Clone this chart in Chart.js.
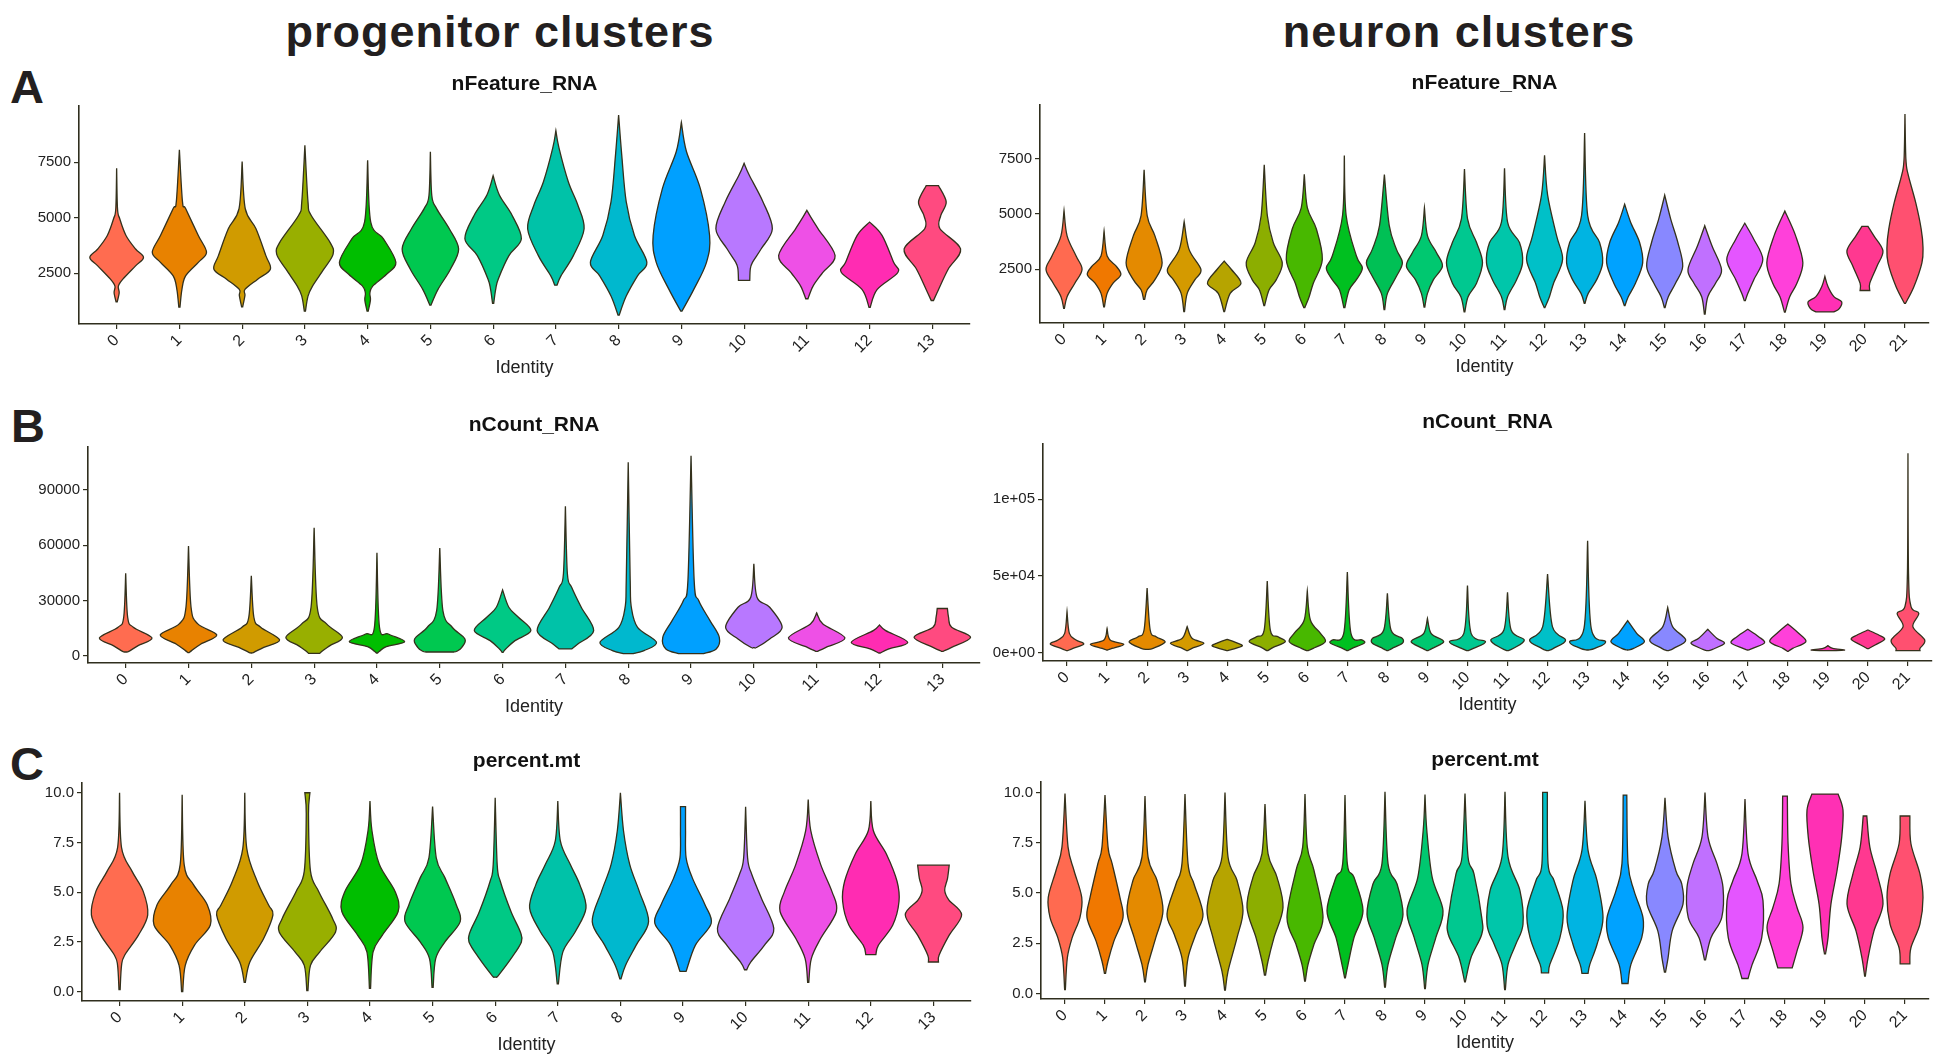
<!DOCTYPE html>
<html>
<head>
<meta charset="utf-8">
<script src="https://cdn.jsdelivr.net/npm/chart.js@4.4.0/dist/chart.umd.min.js"></script>
<style>
  body { margin: 0; background: #fff; width: 1941px; height: 1056px; position: relative; overflow: hidden;
         font-family: 'Liberation Sans', Arial, sans-serif; }
  .hdr { position: absolute; font-weight: bold; font-size: 45px; line-height: 45px; letter-spacing: 1px;
         color: #231f20; transform: translateX(-50%); white-space: nowrap; }
  .tag { position: absolute; font-weight: bold; font-size: 47px; line-height: 47px; color: #231f20; }
  canvas { position: absolute; }
</style>
</head>
<body>
<div class="hdr" style="left:500px;top:9px">progenitor clusters</div>
<div class="hdr" style="left:1459px;top:9px">neuron clusters</div>
<div class="tag" style="left:10px;top:63px">A</div>
<div class="tag" style="left:11px;top:402px">B</div>
<div class="tag" style="left:10px;top:740px">C</div>

<canvas id="aLeft"></canvas>
<canvas id="aRight"></canvas>
<canvas id="bLeft"></canvas>
<canvas id="bRight"></canvas>
<canvas id="cLeft"></canvas>
<canvas id="cRight"></canvas>

<script>
'use strict';

// Clusters (x categories)
const progenitorClusters = ['0','1','2','3','4','5','6','7','8','9','10','11','12','13'];
const neuronClusters = ['0','1','2','3','4','5','6','7','8','9','10','11','12','13','14','15','16','17','18','19','20','21'];

// Cluster colours
const progenitorColors = ['#FF6C50','#E88200','#D09B00','#98AF00','#00BE00','#00C850','#00C985',
  '#00C2A8','#00B8CE','#00A0FF','#B878FF','#EE50E6','#FF2CB2','#FF4A80'];
const neuronColors = ['#FF6A50','#F07800','#E48A00','#D49A00','#B6A400','#8CAE00','#48B800','#00C020',
  '#00C055','#00C870','#00C890','#00C6AA','#00C0C8','#00B4E2','#00A2FF','#8888FF','#C070FF','#E455FF',
  '#FF40DA','#FF30B4','#FF3890','#FF5070'];

// Violin outlines: [value, relative half-width, value, relative half-width, ...] from bottom to top
const progFeature = [
  [1210,0.02, 1620,0.09, 1920,0.06, 2230,0.22, 2830,0.67, 3210,0.95, 3590,0.67, 4200,0.33, 4950,0.11, 5410,0.03, 7230,0],
  [970,0.02, 1770,0.09, 2380,0.22, 2990,0.67, 3440,0.96, 4200,0.67, 5410,0.22, 5710,0.11, 8060,0],
  [990,0.02, 1500,0.1, 1770,0.1, 2230,0.55, 2680,1, 3290,0.84, 4500,0.49, 5410,0.11, 7530,0],
  [790,0.02, 1470,0.11, 1920,0.27, 2680,0.67, 3360,1, 3890,0.89, 5110,0.22, 5710,0.11, 8260,0],
  [790,0.02, 1300,0.1, 1600,0.08, 1920,0.18, 2450,0.67, 2990,1, 4050,0.56, 4800,0.11, 7580,0],
  [1060,0.02, 1770,0.27, 2680,0.71, 3590,1, 4500,0.67, 5410,0.22, 6000,0.05, 7970,0],
  [1140,0.02, 1770,0.09, 2230,0.18, 3290,0.56, 4050,1, 5110,0.67, 6020,0.22, 6890,0],
  [1960,0.04, 2380,0.18, 3290,0.62, 4500,1, 5560,0.78, 6620,0.44, 8140,0.11, 8920,0],
  [610,0.02, 1470,0.27, 2380,0.67, 2990,1, 4200,0.56, 5710,0.27, 7830,0.11, 9620,0],
  [790,0.02, 1770,0.44, 2990,0.89, 4200,1, 6320,0.67, 7980,0.18, 9290,0],
  [2180,0.2, 2700,0.22, 3000,0.3, 3590,0.6, 4500,1, 5710,0.67, 6920,0.18, 7450,0],
  [1350,0.04, 1920,0.22, 2530,0.56, 3290,1, 4500,0.4, 5000,0.15, 5330,0],
  [960,0.02, 1770,0.27, 2530,1, 2990,0.85, 4200,0.44, 4800,0],
  [1270,0.04, 1770,0.22, 2680,0.56, 3590,1, 4500,0.27, 5100,0.3, 5710,0.49, 6440,0.22]
];
const neuronFeature = [
  [730,0.02, 1260,0.17, 1870,0.6, 2490,1, 3100,0.67, 4010,0.17, 5160,0],
  [800,0.02, 1410,0.17, 1870,0.5, 2260,0.93, 2640,0.67, 3100,0.17, 4230,0],
  [1140,0.03, 1570,0.17, 2030,0.6, 2790,1, 4010,0.6, 4930,0.17, 7000,0],
  [590,0.02, 1410,0.17, 2030,0.6, 2490,0.93, 3400,0.27, 4660,0],
  [590,0.02, 1410,0.33, 1870,0.93, 2490,0.4, 2870,0],
  [860,0.02, 1570,0.27, 2030,0.67, 2790,1, 3710,0.5, 4930,0.17, 7230,0],
  [770,0.03, 1260,0.27, 1870,0.5, 2940,1, 4320,0.67, 5280,0.17, 6800,0],
  [770,0.03, 1570,0.27, 2030,0.67, 2560,1, 3100,0.67, 4930,0.1, 7640,0],
  [680,0.02, 1410,0.17, 2180,0.67, 2790,1, 3400,0.67, 4470,0.27, 6780,0],
  [790,0.02, 1410,0.17, 2030,0.5, 2640,1, 3250,0.67, 4010,0.17, 5280,0],
  [570,0.02, 1260,0.2, 1870,0.67, 2790,1, 3710,0.67, 4780,0.17, 7030,0],
  [680,0.02, 1260,0.17, 2030,0.67, 2790,1, 3710,0.83, 4630,0.17, 7070,0],
  [770,0.02, 1260,0.27, 1870,0.5, 2940,1, 4010,0.67, 5850,0.17, 7650,0],
  [960,0.02, 1410,0.2, 2030,0.67, 2790,1, 3710,0.83, 4930,0.17, 8660,0],
  [860,0.02, 1260,0.2, 1870,0.6, 2790,1, 3710,0.83, 4630,0.33, 5440,0],
  [770,0.02, 1260,0.2, 1870,0.6, 2640,1, 3710,0.73, 4780,0.33, 5850,0],
  [470,0.02, 1260,0.17, 1870,0.6, 2490,0.93, 3560,0.4, 4470,0],
  [1080,0.03, 1410,0.17, 2030,0.5, 2940,1, 3860,0.5, 4580,0],
  [560,0.02, 1260,0.27, 1870,0.67, 2790,1, 4010,0.6, 5130,0],
  [570,0.5, 720,0.8, 1030,0.93, 1260,0.5, 1720,0.17, 2180,0],
  [1540,0.27, 1870,0.27, 2640,0.67, 3330,1, 4010,0.5, 4440,0.17],
  [960,0.03, 1720,0.5, 2790,0.94, 3500,1, 4320,0.9, 5500,0.6, 6800,0.17, 7500,0.05, 9520,0]
];
const progCount = [
  [2170,0.03, 2530,0.11, 5600,0.44, 9760,0.93, 15540,0.27, 20960,0.07, 44810,0],
  [1810,0.02, 2890,0.11, 6500,0.44, 11380,1, 17350,0.33, 26390,0.09, 59460,0],
  [1630,0.02, 2000,0.09, 4700,0.44, 8670,1, 15540,0.33, 20960,0.09, 43370,0],
  [1450,0.2, 2890,0.3, 5600,0.56, 10120,1, 17350,0.44, 26390,0.11, 69390,0],
  [1630,0.02, 2530,0.09, 5060,0.33, 7770,0.98, 11930,0.4, 15540,0.09, 55820,0],
  [2170,0.5, 2530,0.6, 4700,0.78, 9220,0.89, 15540,0.44, 24580,0.11, 58370,0],
  [1990,0.02, 3800,0.11, 8310,0.44, 13730,1, 20960,0.56, 26390,0.22, 35780,0],
  [3800,0.22, 6500,0.44, 13730,1, 26390,0.56, 37220,0.22, 44530,0.07, 81000,0],
  [1270,0.18, 2890,0.56, 7410,1, 15540,0.33, 26390,0.11, 40840,0.07, 104800,0],
  [1270,0.44, 3800,0.89, 10120,1, 19150,0.67, 30000,0.27, 40840,0.11, 108400,0],
  [4520,0.02, 4700,0.11, 9220,0.56, 15540,1, 26390,0.56, 31800,0.11, 49900,0],
  [2530,0.03, 4700,0.33, 9760,1, 17350,0.22, 23310,0],
  [1630,0.03, 3800,0.33, 7410,1, 13730,0.22, 16800,0],
  [2530,0.03, 4700,0.33, 10120,1, 15540,0.33, 21000,0.22, 25700,0.18]
];
const neuronCount = [
  [1300,0.03, 2830,0.33, 5650,0.93, 8260,0.5, 12610,0.13, 26740,0],
  [1740,0.03, 2830,0.27, 5430,0.93, 8260,0.17, 15870,0],
  [2170,0.03, 2830,0.33, 6960,1, 10440,0.5, 14780,0.17, 42180,0],
  [1300,0.03, 2830,0.27, 6090,0.93, 9350,0.27, 17000,0],
  [1300,0.03, 2170,0.27, 4350,0.83, 6090,0.6, 8700,0],
  [1300,0.03, 3480,0.33, 7170,1, 10440,0.6, 14780,0.17, 46740,0],
  [1300,0.03, 2830,0.33, 7170,1, 12610,0.73, 21310,0.17, 40220,0],
  [1300,0.03, 2830,0.27, 6090,0.93, 8260,0.83, 12610,0.2, 52610,0],
  [1300,0.03, 2830,0.27, 6090,0.83, 9350,0.83, 14780,0.2, 38700,0],
  [1300,0.03, 2830,0.27, 6090,0.83, 8260,0.83, 12610,0.2, 22390,0],
  [1300,0.03, 2830,0.33, 7170,1, 12610,0.2, 43700,0],
  [1300,0.03, 2830,0.33, 8260,0.93, 14780,0.2, 39350,0],
  [1300,0.03, 2830,0.33, 8260,1, 17000,0.27, 51310,0],
  [1740,0.03, 2830,0.4, 7170,1, 15870,0.2, 73050,0],
  [1740,0.03, 2830,0.33, 7170,0.93, 12610,0.5, 20870,0],
  [1300,0.03, 2830,0.33, 8260,1, 16960,0.27, 29570,0],
  [1300,0.03, 2170,0.27, 6090,0.93, 9350,0.5, 15220,0],
  [1740,0.03, 2830,0.27, 6520,0.93, 10440,0.6, 15220,0],
  [870,0.03, 2830,0.27, 7170,1, 12610,0.6, 18700,0],
  [1300,0.3, 1740,0.93, 2830,0.27, 4570,0],
  [2610,0.03, 5000,0.4, 8700,0.93, 11520,0.6, 14780,0],
  [1300,0.67, 2830,0.67, 8260,0.93, 16960,0.27, 25650,0.6, 30000,0.17, 51740,0.03, 130000,0]
];
const progMt = [
  [0.1,0.02, 1.32,0.07, 1.83,0.18, 2.84,0.67, 3.86,1, 5.04,0.84, 6.06,0.44, 7.24,0.07, 10.0,0],
  [0,0.02, 1.32,0.11, 2.34,0.44, 3.35,1, 4.37,0.89, 5.38,0.4, 6.4,0.07, 9.9,0],
  [0.47,0.02, 1.49,0.18, 2.67,0.67, 3.86,1, 4.37,0.84, 5.55,0.44, 7.2,0.07, 10.0,0],
  [0.05,0.02, 1.32,0.11, 2.0,0.44, 3.0,1, 3.69,0.89, 5.04,0.4, 6.06,0.11, 8.93,0.04, 10.0,0.09],
  [0.17,0.02, 2.0,0.11, 2.84,0.44, 4.03,1, 5.04,0.89, 6.4,0.33, 8.09,0.07, 9.58,0],
  [0.22,0.02, 1.66,0.11, 2.5,0.44, 3.52,0.98, 4.37,0.84, 5.72,0.44, 6.73,0.13, 9.3,0],
  [0.73,0.04, 0.81,0.11, 1.66,0.56, 2.5,0.93, 3.01,0.89, 4.03,0.56, 5.55,0.18, 6.4,0.07, 9.75,0],
  [0.39,0.02, 2.0,0.18, 3.01,0.62, 4.2,1, 5.38,0.78, 6.4,0.44, 7.58,0.09, 9.58,0],
  [0.64,0.02, 1.32,0.18, 2.34,0.56, 3.52,1, 5.04,0.67, 6.4,0.33, 8.09,0.11, 10.0,0],
  [1.02,0.11, 2.34,0.44, 3.43,1, 4.37,0.78, 5.72,0.33, 6.73,0.11, 8.09,0.09, 9.3,0.09],
  [1.1,0.04, 1.49,0.18, 2.34,0.67, 3.18,1, 4.7,0.56, 5.89,0.22, 6.73,0.07, 9.3,0],
  [0.47,0.02, 1.66,0.11, 2.67,0.44, 4.03,1, 5.04,0.84, 6.4,0.44, 8.09,0.09, 9.66,0],
  [1.86,0.18, 2.34,0.27, 3.35,0.78, 4.53,1, 5.55,0.93, 6.9,0.56, 8.09,0.09, 9.58,0],
  [1.49,0.18, 1.83,0.2, 2.84,0.56, 3.86,1, 4.6,0.55, 5.1,0.4, 5.7,0.5, 6.36,0.56]
];
const neuronMt = [
  [0.2,0.02, 1.78,0.13, 2.78,0.4, 3.78,0.83, 4.78,0.93, 6.12,0.5, 7.28,0.17, 9.95,0],
  [1.0,0.03, 1.62,0.17, 2.62,0.5, 3.78,1, 4.78,0.83, 6.45,0.4, 7.28,0.17, 9.87,0],
  [0.58,0.02, 1.45,0.17, 2.78,0.6, 4.12,1, 5.62,0.67, 6.78,0.17, 9.82,0],
  [0.37,0.02, 1.78,0.17, 2.95,0.6, 3.95,1, 5.45,0.5, 6.45,0.17, 9.92,0],
  [0.17,0.02, 1.12,0.17, 2.78,0.67, 4.12,1, 5.62,0.67, 6.78,0.17, 10.0,0],
  [0.92,0.03, 1.62,0.17, 2.78,0.5, 4.28,1, 5.78,0.67, 6.95,0.17, 9.42,0],
  [0.62,0.02, 1.45,0.17, 2.45,0.5, 3.78,1, 6.12,0.5, 7.28,0.13, 9.92,0],
  [0.78,0.02, 1.45,0.17, 2.78,0.5, 4.12,1, 5.78,0.5, 6.45,0.13, 9.87,0],
  [0.32,0.02, 1.45,0.17, 2.78,0.6, 3.95,1, 5.45,0.67, 6.45,0.17, 10.03,0],
  [0.25,0.02, 1.45,0.17, 2.78,0.6, 4.12,1, 5.78,0.4, 8.12,0.1, 9.9,0],
  [0.58,0.02, 1.78,0.33, 2.95,0.93, 3.78,0.93, 5.95,0.5, 6.78,0.17, 9.95,0],
  [0.2,0.02, 1.45,0.17, 2.45,0.6, 3.45,1, 5.12,0.83, 6.78,0.17, 10.03,0],
  [1.03,0.2, 1.45,0.27, 2.78,0.83, 4.12,1, 5.62,0.5, 6.45,0.17, 10.0,0.13],
  [1.0,0.17, 1.45,0.27, 2.45,0.67, 3.78,1, 5.62,0.67, 7.12,0.17, 9.58,0],
  [0.5,0.17, 1.45,0.33, 2.78,0.93, 3.78,1, 5.12,0.5, 6.45,0.17, 9.87,0.1],
  [1.07,0.03, 1.78,0.17, 3.12,0.4, 4.45,1, 5.45,0.93, 6.12,0.6, 7.78,0.17, 9.73,0],
  [1.68,0.03, 2.78,0.33, 3.78,0.93, 5.28,1, 6.45,0.67, 7.78,0.17, 10.0,0],
  [0.75,0.17, 1.45,0.4, 2.78,0.93, 4.62,1, 5.62,0.67, 6.95,0.17, 9.67,0],
  [1.28,0.4, 2.12,0.67, 3.28,1, 4.28,0.67, 5.45,0.33, 7.45,0.17, 9.82,0.13],
  [1.98,0.03, 2.78,0.17, 4.45,0.33, 6.12,0.67, 7.78,0.93, 9.12,1, 9.92,0.73],
  [0.87,0.02, 1.78,0.17, 3.12,0.5, 4.45,1, 5.95,0.67, 7.28,0.27, 8.83,0.1],
  [1.48,0.27, 2.28,0.33, 3.45,0.83, 4.78,1, 5.95,0.83, 7.45,0.33, 8.83,0.27]
];

// Y axis ticks
const featureTicks = [2500, 5000, 7500];
const progCountTicks = [0, 30000, 60000, 90000];
const neuronCountTicks = [0, 50000, 100000];
const neuronCountLabels = ['0e+00', '5e+04', '1e+05'];
const mtTicks = [0, 2.5, 5, 7.5, 10];
const mtLabels = ['0.0', '2.5', '5.0', '7.5', '10.0'];

const FONT = "'Liberation Sans', Arial, sans-serif";
const AXIS = '#2f2e1e';
const TEXT = '#222222';

// draws one violin per cluster using the chart's own x / y scales
function violinPlugin(shapes, colors) {
  return {
    id: 'violins',
    afterDatasetsDraw(chart) {
      const { ctx, scales: { x, y } } = chart;
      const half = 0.45 * (x.getPixelForValue(1) - x.getPixelForValue(0));
      ctx.save();
      ctx.beginPath();
      ctx.rect(chart.chartArea.left, chart.chartArea.top, chart.chartArea.width, chart.chartArea.height);
      ctx.clip();
      shapes.forEach((knots, i) => {
        const cx = x.getPixelForValue(i);
        const right = [], left = [];
        for (let k = 0; k < knots.length; k += 2) {
          const py = y.getPixelForValue(knots[k]);
          right.push([cx + knots[k + 1] * half, py]);
          left.push([cx - knots[k + 1] * half, py]);
        }
        left.reverse();
        ctx.beginPath();
        ctx.moveTo(right[0][0], right[0][1]);
        const side = (arr) => {
          for (let k = 0; k < arr.length - 1; k++) {
            const p0 = arr[Math.max(k - 1, 0)], p1 = arr[k], p2 = arr[k + 1], p3 = arr[Math.min(k + 2, arr.length - 1)];
            ctx.bezierCurveTo(
              p1[0] + (p2[0] - p0[0]) / 6, p1[1] + (p2[1] - p0[1]) / 6,
              p2[0] - (p3[0] - p1[0]) / 6, p2[1] - (p3[1] - p1[1]) / 6,
              p2[0], p2[1]);
          }
        };
        side(right);
        ctx.lineTo(left[0][0], left[0][1]);
        side(left);
        ctx.closePath();
        ctx.fillStyle = colors[i];
        ctx.fill();
        ctx.lineWidth = 1.3;
        ctx.strokeStyle = '#34311c';
        ctx.stroke();
      });
      ctx.restore();
    }
  };
}

function makePanel(id, box, title, clusters, colors, shapes, yRange, yTicks, yLabels) {
  const canvas = document.getElementById(id);
  const W = box.R - box.L + 83, H = box.B - box.T + 98;
  canvas.width = W; canvas.height = H;
  canvas.style.left = (box.L - 75) + 'px';
  canvas.style.top = (box.T - 40) + 'px';
  canvas.style.width = W + 'px';
  canvas.style.height = H + 'px';

  new Chart(canvas.getContext('2d'), {
    type: 'scatter',
    data: { datasets: [] },
    options: {
      responsive: false,
      animation: false,
      devicePixelRatio: 1,
      layout: { padding: { top: 8, right: 8, left: 0, bottom: 0 } },
      plugins: {
        legend: { display: false },
        tooltip: { enabled: false },
        title: {
          display: true, text: title, color: '#111', fullSize: false,
          font: { family: FONT, size: 21, weight: 'bold', lineHeight: 1 },
          padding: { top: 0, bottom: 11 }
        }
      },
      scales: {
        x: {
          type: 'linear',
          min: -0.6, max: clusters.length - 0.4,
          afterBuildTicks: axis => { axis.ticks = clusters.map((c, i) => ({ value: i })); },
          afterFit: axis => { axis.height = 58; },
          grid: { display: true, drawOnChartArea: false, drawTicks: true, tickLength: 5, tickColor: AXIS, lineWidth: 1.2 },
          border: { display: true, color: AXIS, width: 1.6 },
          ticks: {
            autoSkip: false, maxRotation: 45, minRotation: 45, padding: 2, color: TEXT,
            font: { family: FONT, size: 16 },
            callback: (v, idx) => clusters[idx]
          },
          title: { display: true, text: 'Identity', color: TEXT, font: { family: FONT, size: 18 }, padding: { top: 2, bottom: 3 } }
        },
        y: {
          type: 'linear',
          min: yRange[0], max: yRange[1],
          afterBuildTicks: axis => { axis.ticks = yTicks.map(v => ({ value: v })); },
          afterFit: axis => { axis.width = 75; },
          grid: { display: true, drawOnChartArea: false, drawTicks: true, tickLength: 5, tickColor: AXIS, lineWidth: 1.2 },
          border: { display: true, color: AXIS, width: 1.6 },
          ticks: {
            padding: 3, color: TEXT, font: { family: FONT, size: 15 },
            callback: (v, idx) => yLabels[idx]
          }
        }
      }
    },
    plugins: [violinPlugin(shapes, colors)]
  });
}

makePanel('aLeft',  { L: 79,   T: 106, R: 970,  B: 324 },  'nFeature_RNA', progenitorClusters, progenitorColors, progFeature,
  [212, 10030], featureTicks, featureTicks.map(String));
makePanel('aRight', { L: 1040, T: 105, R: 1929, B: 323 },  'nFeature_RNA', neuronClusters, neuronColors, neuronFeature,
  [69, 9931], featureTicks, featureTicks.map(String));
makePanel('bLeft',  { L: 88,   T: 447, R: 980,  B: 663 },  'nCount_RNA', progenitorClusters, progenitorColors, progCount,
  [-3795, 113100], progCountTicks, progCountTicks.map(String));
makePanel('bRight', { L: 1043, T: 444, R: 1932, B: 661 },  'nCount_RNA', neuronClusters, neuronColors, neuronCount,
  [-5435, 136100], neuronCountTicks, neuronCountLabels);
makePanel('cLeft',  { L: 82,   T: 783, R: 971,  B: 1001 }, 'percent.mt', progenitorClusters, progenitorColors, progMt,
  [-0.47, 10.49], mtTicks, mtLabels);
makePanel('cRight', { L: 1041, T: 782, R: 1929, B: 999 },  'percent.mt', neuronClusters, neuronColors, neuronMt,
  [-0.27, 10.52], mtTicks, mtLabels);
</script>
</body>
</html>
